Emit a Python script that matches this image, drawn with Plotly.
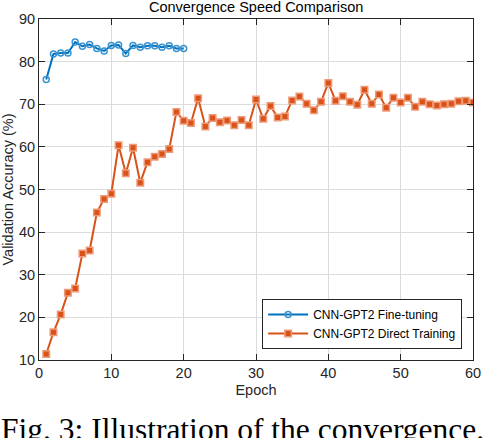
import plotly.graph_objects as go

# --- dados ---
epochs_ft = list(range(1, 21))
acc_ft = [75.8, 81.8, 82.0, 82.0, 84.6, 83.6, 84.0, 83.1, 82.5, 83.8,
          83.9, 81.9, 83.8, 83.4, 83.7, 83.7, 83.4, 83.7, 83.1, 83.1]

epochs_dt = list(range(1, 61))
acc_dt = [11.4, 16.5, 20.7, 25.8, 26.8, 35.0, 35.7, 44.6, 47.8, 49.0,
          60.4, 53.8, 59.8, 51.6, 56.4, 57.7, 58.3, 59.5, 68.2, 66.1,
          65.6, 71.4, 64.8, 66.8, 65.8, 66.2, 65.1, 66.3, 65.1, 71.1,
          66.6, 69.6, 66.9, 67.1, 70.9, 71.8, 70.1, 68.6, 70.6, 75.0,
          70.8, 71.9, 70.6, 69.9, 73.4, 70.1, 72.3, 69.2, 71.5, 70.4,
          71.5, 69.4, 70.6, 70.0, 69.7, 70.0, 70.1, 70.7, 70.8, 70.4]

x_ticks = [0, 10, 20, 30, 40, 50, 60]
y_ticks = [10, 20, 30, 40, 50, 60, 70, 80, 90]

blue = '#0072BD'
orange = '#D95319'
font_sans = 'Liberation Sans, Arial, sans-serif'

fig = go.Figure()
fig.add_trace(go.Scatter(
    x=epochs_ft, y=acc_ft, mode='lines+markers', name='CNN-GPT2 Fine-tuning',
    line=dict(color=blue, width=2),
    marker=dict(symbol='circle-open', size=6, color='#3A93D0', line=dict(width=1.5))))
fig.add_trace(go.Scatter(
    x=epochs_dt, y=acc_dt, mode='lines+markers', name='CNN-GPT2 Direct Training',
    line=dict(color=orange, width=2),
    marker=dict(symbol='square', size=6.5, color=orange,
                line=dict(color='#EE9A78', width=1.5))))

axis_common = dict(
    showline=True, linecolor='#262626', linewidth=1, mirror='ticks',
    ticks='inside', ticklen=6, tickcolor='#262626', automargin=False,
    showgrid=True, gridcolor='#DCDCDC', gridwidth=1, zeroline=False,
    tickfont=dict(family=font_sans, size=14.5, color='#262626'),
)

fig.update_layout(
    width=486, height=438,
    margin=dict(l=39, r=13, t=19, b=78),
    plot_bgcolor='white', paper_bgcolor='white',
    title=dict(text='Convergence Speed Comparison', x=0.527, xanchor='center',
               y=0.985, yanchor='middle', yref='container',
               font=dict(family=font_sans, size=14.5, color='#000000')),
    xaxis=dict(range=[0, 60], tickvals=x_ticks,
               title=dict(text='Epoch', standoff=4,
                          font=dict(family=font_sans, size=14.5, color='#262626')),
               **axis_common),
    yaxis=dict(range=[10, 90], tickvals=y_ticks,
               title=dict(text='Validation Accuracy (%)', standoff=2,
                          font=dict(family=font_sans, size=14.5, color='#262626')),
               **axis_common),
    legend=dict(x=0.975, y=0.032, xanchor='right', yanchor='bottom',
                bgcolor='white', bordercolor='#262626', borderwidth=1,
                font=dict(family=font_sans, size=12, color='#000000'),
                tracegroupgap=0, itemwidth=40),
    showlegend=True,
)

# legenda da figura (caption)
fig.add_annotation(
    text='Fig. 3: Illustration of the convergence.',
    xref='paper', yref='paper', x=-0.092, y=(360 - 430) / 341.3,
    xanchor='left', yanchor='middle', showarrow=False,
    font=dict(family='Liberation Serif, Times New Roman, serif', size=31.5, color='#000000'))

# remove a margem padrão do <body> para a figura ocupar a janela inteira
fig.write_html("out.html", config={'displayModeBar': False},
               post_script="document.body.style.margin='0';")
